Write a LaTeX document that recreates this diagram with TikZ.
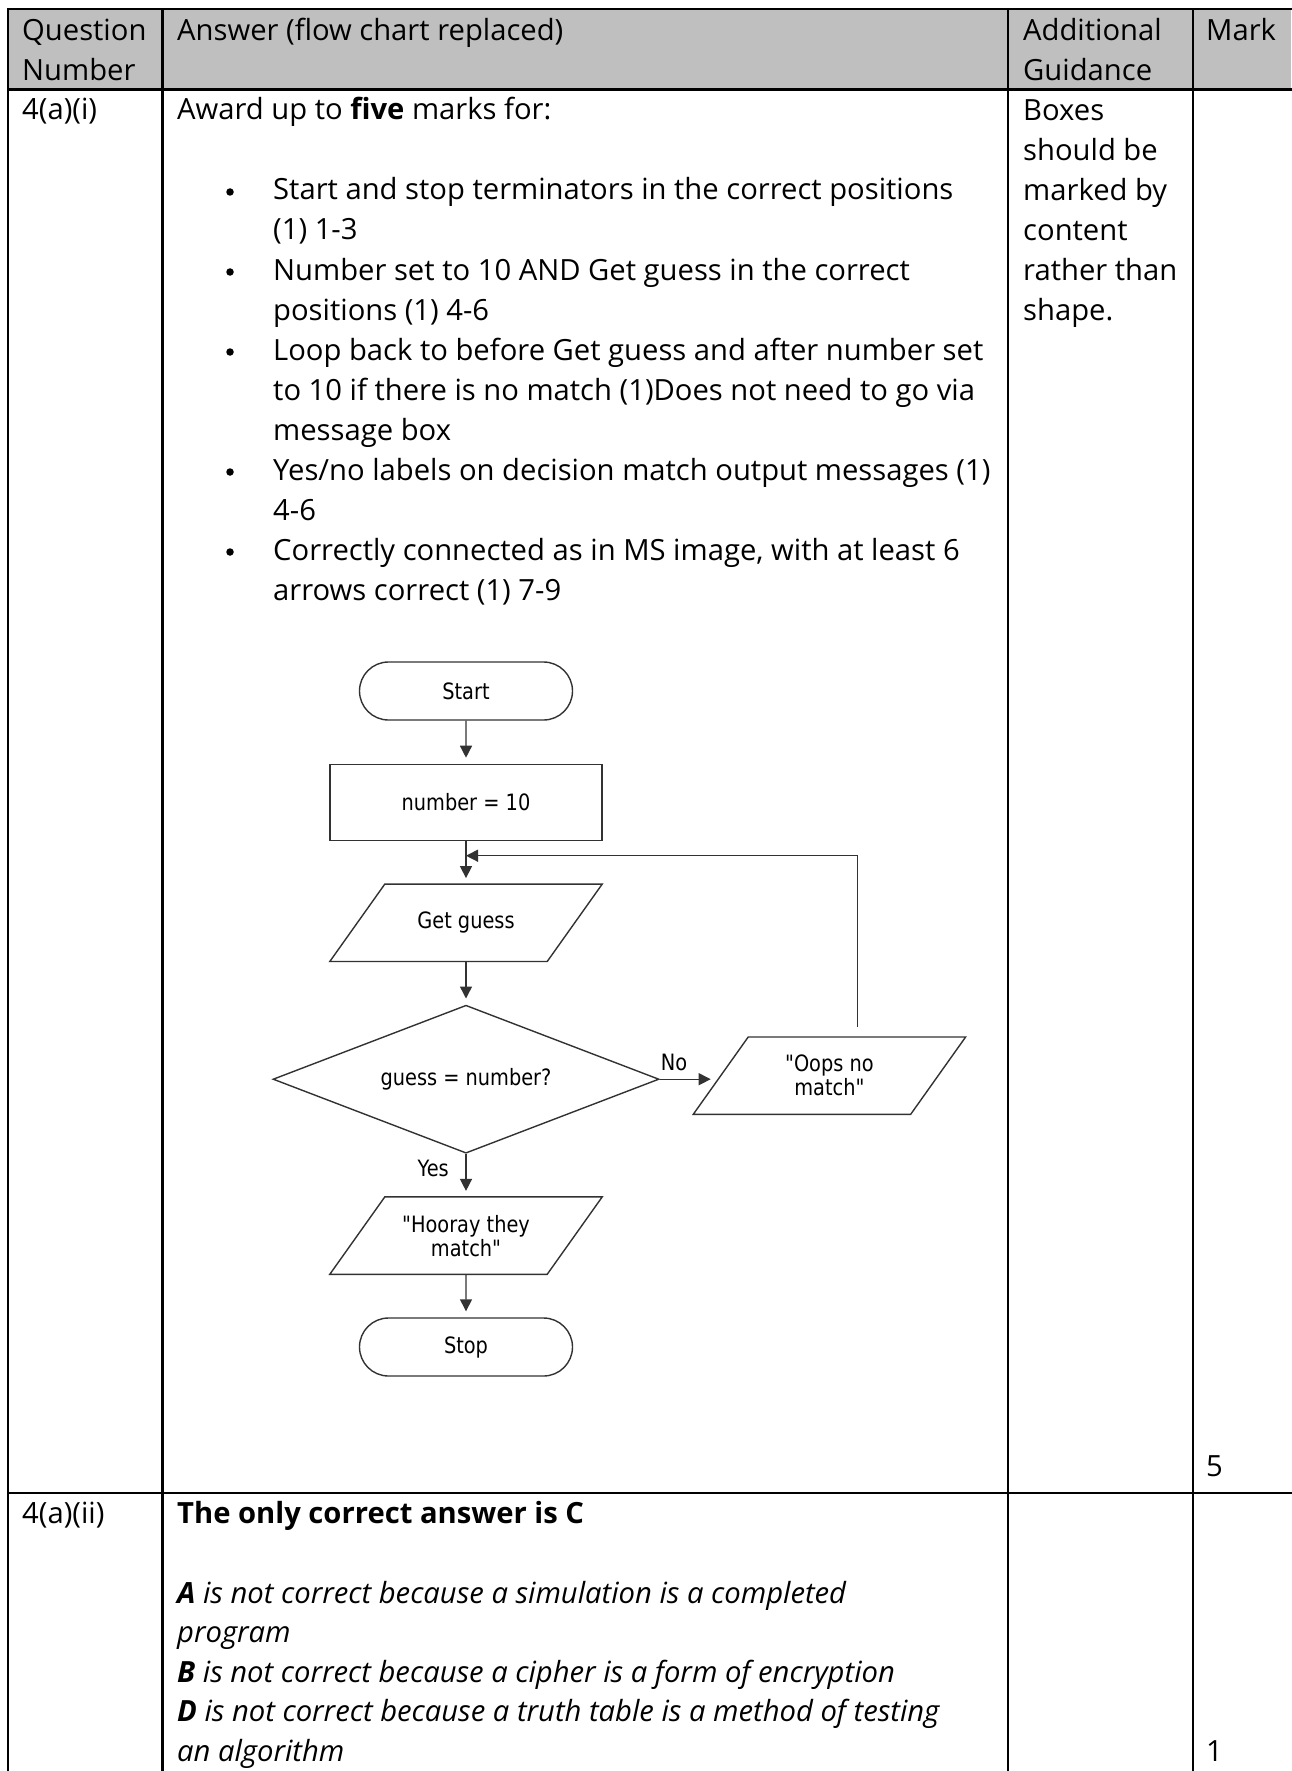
\documentclass[tikz,border=0pt]{standalone}
\usepackage{fontspec}
\setmainfont{Open Sans}
\newfontfamily\flowfont[FakeStretch=0.86]{DejaVu Sans}
\usepackage{xcolor}
\usetikzlibrary{positioning, calc, shapes.geometric, shapes.misc, arrows.meta}
\definecolor{headgray}{RGB}{191,191,191}
\definecolor{flowgray}{RGB}{50,50,50}

\begin{document}
\begin{tikzpicture}[x=1pt, y=-1pt,
    txt/.style={anchor=base west, inner sep=0pt, align=left, font=\fontsize{29.2}{40}\selectfont},
    rule/.style={line width=2.3pt, line cap=rect, black},
    bul/.style={circle, fill=black, inner sep=0pt, minimum size=7.5pt},
    outline/.style={draw=flowgray, line width=1.4pt},
    fc/.style={outline, font=\flowfont\fontsize{22.5}{24}\selectfont, inner sep=0pt, align=center},
    term/.style={fc, rounded rectangle, minimum width=213pt, minimum height=58pt},
    proc/.style={fc, rectangle, minimum width=272pt, minimum height=76pt},
    io/.style={fc, draw=none, rectangle, minimum width=216pt, minimum height=76pt,
      append after command={\pgfextra{\draw[outline]
        ($(\tikzlastnode.north west)+(27.5,0)$) -- ($(\tikzlastnode.north east)+(27.5,0)$) --
        ($(\tikzlastnode.south east)-(27.5,0)$) -- ($(\tikzlastnode.south west)-(27.5,0)$) -- cycle;}}},
    decide/.style={fc, diamond, aspect=2.6, minimum width=386pt, minimum height=148pt},
    flow/.style={outline, -{Triangle[length=12pt,width=12pt]}, shorten >=6pt},
    lbl/.style={font=\flowfont\fontsize{22.5}{24}\selectfont, inner sep=1pt},
    node distance=43pt]
  \useasboundingbox (0,0) rectangle (1291,1771);

  % table
  \fill[headgray] (7.8,9) rectangle (1291,89.5);
  \foreach \y in {9, 89.5, 1493}
    \draw[rule] (7.8,\y) -- (1291,\y);
  \foreach \x in {7.8, 162.5, 1008, 1193}
    \draw[rule] (\x,9) -- (\x,1771);

  \node[txt] (qno) at (22,81) {Question\\Number};
  \node[txt] (ans) at (177,41) {Answer (flow chart replaced)};
  \node[txt] (guid) at (1023,81) {Additional\\Guidance};
  \node[txt] (mark) at (1206,41) {Mark};

  \node[txt] (q1) at (22,120) {4(a)(i)};
  \node[txt] (award) at (177,120) {Award up to \textbf{five} marks for:};
  \foreach \y/\z/\t [count=\i] in {
      200/240/{Start and stop terminators in the correct positions\\(1) 1-3},
      280/320/{Number set to 10 AND Get guess in the correct\\positions (1) 4-6},
      360/440/{Loop back to before Get guess and after number set\\to 10 if there is no match (1)Does not need to go via\\message box},
      480/520/{Yes/no labels on decision match output messages (1)\\4-6},
      560/600/{Correctly connected as in MS image, with at least 6\\arrows correct (1) 7-9}} {
    \node[bul] (dot\i) at (230,\y-8) {};
    \node[txt] (item\i) at (273,\z) {\t};
  }
  \node[txt] (hint) at (1023,320) {Boxes\\should be\\marked by\\content\\rather than\\shape.};
  \node[txt] (m1) at (1206,1476) {5};

  \node[txt] (q2) at (22,1523) {4(a)(ii)};
  \node[txt] (key) at (177,1523) {\textbf{The only correct answer is C}};
  \node[txt, font=\itshape\fontsize{29.2}{39.5}\selectfont] (why) at (177,1761)
    {\textbf{A} is not correct because a simulation is a completed\\program\\
     \textbf{B} is not correct because a cipher is a form of encryption\\
     \textbf{D} is not correct because a truth table is a method of testing\\an algorithm};
  \node[txt] (m2) at (1206,1761) {1};

  % flow chart
  \node[term] (start) at (466,691) {Start};
  \node[proc, below=of start] (num) {number = 10};
  \node[io, below=of num] (gg) {Get guess};
  \node[decide, below=of gg] (dec) {guess = number?};
  \node[io, right=61pt of dec, yshift=3.5pt] (oops) {"Oops no\\match"};
  \node[io, below=of dec] (yay) {"Hooray they\\match"};
  \node[term, below=of yay] (stop) {Stop};

  \coordinate (join) at ($(num.south)!0.34!(gg.north)$);

  \draw[flow] (start) -- (num);
  \draw[flow] (num) -- (gg);
  \draw[flow] (gg) -- (dec);
  \draw[flow] (dec) -- (yay);
  \draw[flow] (yay) -- (stop);
  \draw[flow, shorten >=10pt] (dec.east) -- (dec.east -| oops.west);
  \draw[flow, shorten >=0pt, shorten <=10pt] ([xshift=28pt]oops.north) |- (join);

  \node[lbl, above right=7pt and 0pt of dec.east] (no) {No};
  \node[lbl, below left=5pt and 16pt of dec.south] (yes) {Yes};
\end{tikzpicture}
\end{document}
